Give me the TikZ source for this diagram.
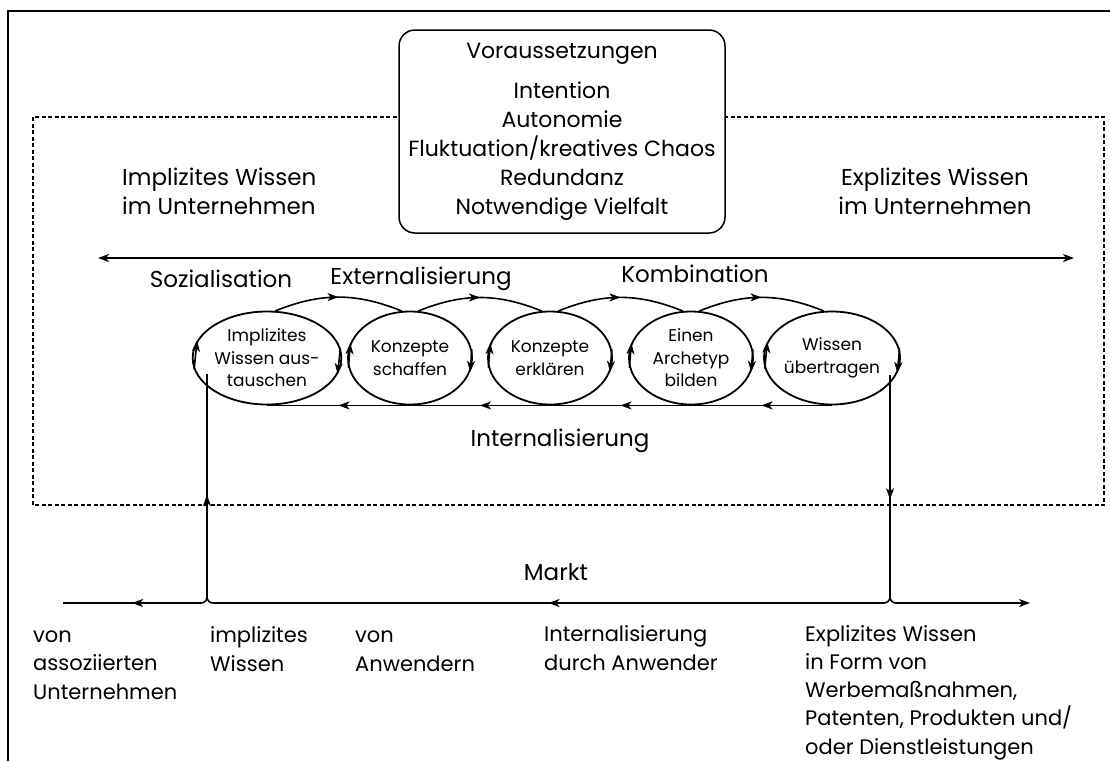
\documentclass[tikz,border=0pt]{standalone}
\usepackage{fontspec}
\setmainfont{Poppins}
\usetikzlibrary{shapes.geometric,arrows.meta,decorations.markings,calc}
\begin{document}
\begin{tikzpicture}[x=1pt,y=1pt,
  conn/.style={line width=1.6pt, draw=black},
  tip/.style={-{Stealth[length=11pt,width=8pt,inset=3pt]}},
  dtip/.style={{Stealth[length=11pt,width=8pt,inset=3pt]}-{Stealth[length=11pt,width=8pt,inset=3pt]}},
  midarrow/.style={postaction={decorate},decoration={markings,mark=at position 0.5 with {\arrow{Stealth[length=11pt,width=8pt,inset=3pt]}}}},
  arrowat/.style={postaction={decorate},decoration={markings,mark=at position #1 with {\arrow{Stealth[length=11pt,width=8pt,inset=3pt]}}}},
  proc/.style={ellipse, draw, line width=1.8pt, minimum width=124pt, minimum height=93pt, inner sep=0pt, align=center, font=\fontsize{17}{22.5}\selectfont},
  lbl/.style={font=\fontsize{23}{29}\selectfont, inner sep=0pt},
  btm/.style={font=\fontsize{21}{28.2}\selectfont, inner sep=0pt, align=left, anchor=base west},
]
\useasboundingbox (0,0) rectangle (1110,-761);
% outer frame
\draw[line width=2.4pt] (8,-761) -- (8,-11) -- (1110,-11);
% dotted company frame
\draw[line width=1.6pt, dash pattern=on 4pt off 2.5pt] (33,-117) rectangle (1104,-505);
% preconditions box
\node[draw, fill=white, line width=1.5pt, rounded corners=16pt, minimum width=326pt, minimum height=203pt, align=center, font=\fontsize{22}{29}\selectfont] (pre) at (562,-131.5)
  {Voraussetzungen\\[11pt] Intention\\ Autonomie\\ Fluktuation/kreatives Chaos\\ Redundanz\\ Notwendige Vielfalt};
% top labels (base = last line)
\node[lbl, align=left, anchor=base west] (impl) at (122,-214) {Implizites Wissen\\im Unternehmen};
\node[lbl, align=center, anchor=base] (expl) at (935,-214) {Explizites Wissen\\im Unternehmen};
\coordinate (la) at (98,-258);
\coordinate (ra) at (1074,-258);
\draw[conn, dtip] (la) -- (ra);
\node[lbl, anchor=base] (soz) at (221,-287) {Sozialisation};
\node[lbl, anchor=base] (ext) at (421,-284) {Externalisierung};
\node[lbl, anchor=base] (kom) at (695,-282) {Kombination};
\node[lbl, anchor=base] (int) at (560,-446) {Internalisierung};
% process ellipses
\node[proc] (e1) at (267,-358) {Implizites\\Wissen aus-\\tauschen};
\node[proc] (e2) at (410,-358) {Konzepte\\schaffen};
\node[proc] (e3) at (550,-358) {Konzepte\\erklären};
\node[proc] (e4) at (691,-358) {Einen\\Archetyp\\bilden};
\node[proc] (e5) at (832,-358) {Wissen\\übertragen};
% spiral connectors
\foreach \a/\b in {e1/e2,e2/e3,e3/e4,e4/e5} {
  \draw[conn, midarrow] (\a.80) to[bend left=22] (\b.100);
  \draw[conn, midarrow] (\b.south) -- (\a.south);
}
\foreach \e in {e1,e2,e3,e4,e5} {
  \draw[conn, tip] (\e.8) -- (\e.-13);
  \draw[conn, tip] (\e.189) -- (\e.166);
}
% market
\node[lbl, anchor=base] (markt) at (556,-580) {Markt};
\coordinate (jl) at (207,-603);
\coordinate (jr) at (890,-603);
\coordinate (bl) at (63,-603);
\coordinate (br) at (1030,-603);
\coordinate (jlt) at (207,-597);
\coordinate (jrt) at (890,-597);
\draw[conn, arrowat=102pt] (jlt) -- (jlt |- e1.193);
\draw[conn, arrowat=124pt] (jrt |- e5.-15) -- (jrt);
\draw[conn] (201,-603) to[out=0,in=-90] (jlt) to[out=-90,in=180] (213,-603);
\draw[conn] (884,-603) to[out=0,in=-90] (jrt) to[out=-90,in=180] (896,-603);
\draw[conn, midarrow] (201,-603) -- (bl);
\draw[conn, midarrow] (884,-603) -- (213,-603);
\draw[conn, tip] (896,-603) -- (br);
% bottom texts (base = last line)
\node[btm] (t1) at (33,-699) {von\\assoziierten\\Unternehmen};
\node[btm] (t2) at (210,-671) {implizites\\Wissen};
\node[btm] (t3) at (355,-671) {von\\Anwendern};
\node[btm] (t4) at (544,-670) {Internalisierung\\durch Anwender};
\node[btm] (t5) at (805,-754) {Explizites Wissen\\in Form von\\Werbemaßnahmen,\\Patenten, Produkten und/\\oder Dienstleistungen};
\end{tikzpicture}
\end{document}
